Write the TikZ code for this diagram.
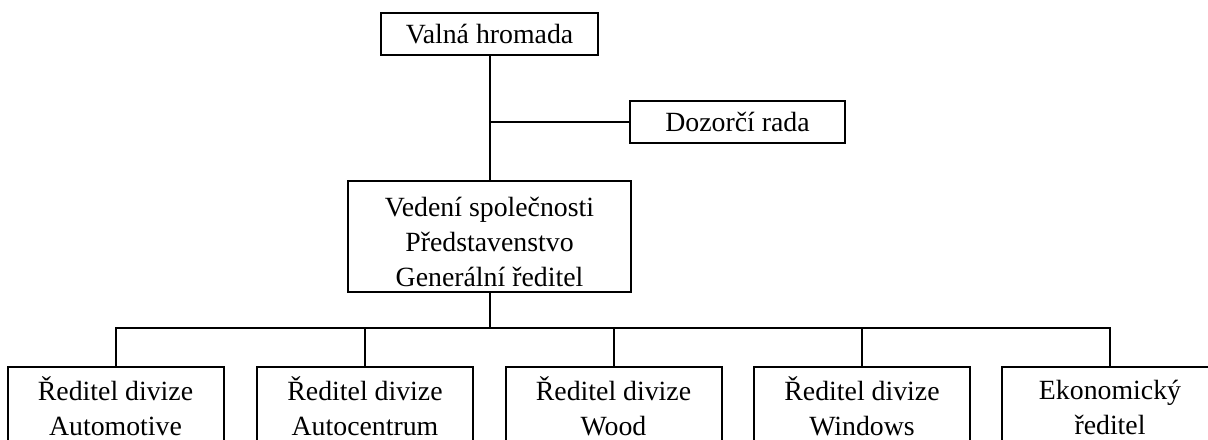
\documentclass[tikz,border=0pt]{standalone}
\usepackage{fontspec}
\setmainfont{Liberation Serif}
\begin{document}
\begin{tikzpicture}[x=0.5pt,y=-0.5pt,line width=1pt,
  box/.style={draw,line width=1pt,inner sep=0pt,align=center,
    font=\fontsize{13.9}{17.5}\selectfont},
  topbox/.style={box,minimum width=108.5pt,minimum height=21pt},
  divbox/.style={box,minimum width=108pt,minimum height=39pt},
  conn/.style={draw,line width=1pt}]
\useasboundingbox (0,0) rectangle (1208,439);
\clip (0,0) rectangle (1208,439);
\node[topbox] (vh) at (489.5,34) {Valná hromada};
\node[topbox,minimum width=107.5pt] (dr) at (737.5,122) {Dozorčí rada};
\node[box,minimum width=141.5pt,minimum height=55.5pt] (vs) at (489.5,236.5)
  {\rule{0pt}{15pt}Vedení společnosti\\Představenstvo\\Generální ředitel};
\node[divbox] (b1) at (115.5,406) {Ředitel divize\\Automotive};
\node[divbox] (b2) at (365,406) {Ředitel divize\\Autocentrum};
\node[divbox] (b3) at (613.5,406) {Ředitel divize\\Wood};
\node[divbox] (b4) at (862,406) {Ředitel divize\\Windows};
\node[divbox] (b5) at (1110,406) {\rule{0pt}{11pt}Ekonomický\\ředitel};
\coordinate (bus) at (489.5,328);
\draw[conn] (vh.south) -- (vs.north);
\draw[conn] (vh.south |- dr.west) -- (dr.west);
\draw[conn] (vs.south) -- (bus);
\draw[conn] (b1.north) -- (b1.north |- bus) -- (b5.north |- bus) -- (b5.north);
\draw[conn] (b2.north) -- (b2.north |- bus);
\draw[conn] (b3.north) -- (b3.north |- bus);
\draw[conn] (b4.north) -- (b4.north |- bus);
\end{tikzpicture}
\end{document}
